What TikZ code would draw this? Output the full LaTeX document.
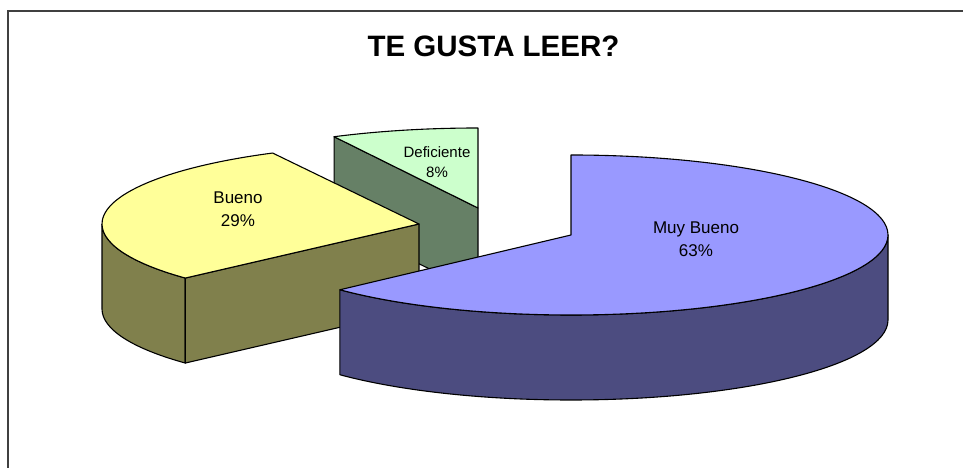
\documentclass[tikz,border=0pt]{standalone}
\usepackage{fontspec}
\setmainfont{Liberation Sans}
\usetikzlibrary{%
		calc%
	}
\definecolor{muytop}{HTML}{9999FF}
\definecolor{muyside}{HTML}{4C4C80}
\definecolor{buetop}{HTML}{FFFF99}
\definecolor{bueside}{HTML}{80804C}
\definecolor{deftop}{HTML}{CCFFCC}
\definecolor{defside}{HTML}{668066}

\begin{document}
\begin{tikzpicture}[x=1pt,y=1pt,
		face/.style={draw=black,line width=1.1pt,line join=round},
		lbl/.style={align=center,inner sep=0pt,font=\fontsize{17}{23}\selectfont},
		er/.style={x radius=317pt,y radius=80pt}]
			\useasboundingbox (0,0) rectangle (963,468);
			\draw[black!75,line width=1.5pt] (8,0) -- (8,457) -- (963,457);
			\node[inner sep=0pt,font=\fontsize{29.5}{30}\selectfont\bfseries] (title) at (493.5,421.5) {TE GUSTA LEER?};

			\coordinate (de) at (478,260);
			\coordinate (bu) at (419,244);
			\coordinate (mb) at (571,233);

			% Deficiente
			\draw[face,fill=defside] (de) -- ($(de)+(117:317pt and 80pt)$) -- ++(0,-85) -- ($(de)+(0,-85)$) -- cycle;
			\draw[face,fill=deftop] (de) -- ($(de)+(90:317pt and 80pt)$) arc[er,start angle=90,end angle=117] -- cycle;

			% Bueno
			\draw[face,fill=bueside] ($(bu)+(180:317pt and 80pt)$) arc[er,start angle=180,end angle=222.5] -- ++(0,-85) arc[er,start angle=222.5,end angle=180] -- cycle;
			\draw[face,fill=bueside] (bu) -- ($(bu)+(222.5:317pt and 80pt)$) -- ++(0,-85) -- ($(bu)+(0,-85)$) -- cycle;
			\draw[face,fill=buetop] (bu) -- ($(bu)+(117.5:317pt and 80pt)$) arc[er,start angle=117.5,end angle=222.5] -- cycle;

			% Muy Bueno
			\draw[face,fill=muyside] ($(mb)+(-136.8:317pt and 80pt)$) arc[er,start angle=-136.8,end angle=0] -- ++(0,-85) arc[er,start angle=0,end angle=-136.8] -- cycle;
			\draw[face,fill=muytop] (mb) -- ($(mb)+(90:317pt and 80pt)$) arc[er,start angle=90,end angle=-136.8] -- cycle;

			\node[lbl] (muy) at (696,228.5) {Muy Bueno\\63\%};
			\node[lbl] (bue) at (238,258.5) {Bueno\\29\%};
			\node[lbl,font=\fontsize{15}{20}\selectfont] (def) at (437,306) {Deficiente\\8\%};

		\end{tikzpicture}
\end{document}
